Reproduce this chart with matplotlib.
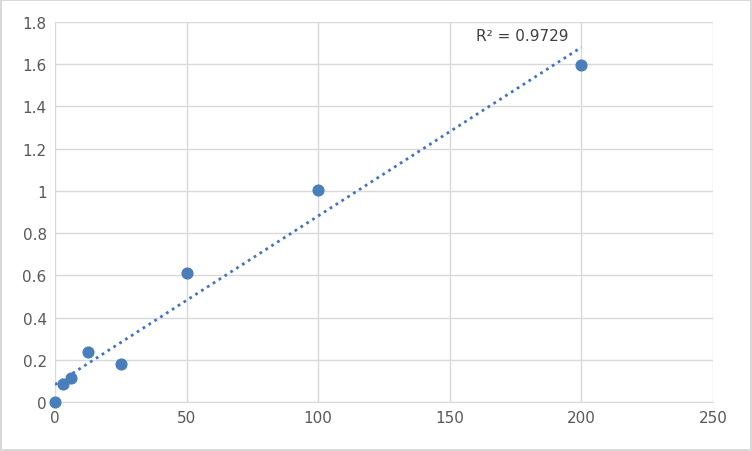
import matplotlib
matplotlib.use("Agg")
import matplotlib.pyplot as plt
import numpy as np

x = [0, 3.125, 6.25, 12.5, 25, 50, 100, 200]
y = [0, 0.085, 0.115, 0.238, 0.178, 0.613, 1.003, 1.597]
xticks = [0, 50, 100, 150, 200, 250]
yticks = [0, 0.2, 0.4, 0.6, 0.8, 1, 1.2, 1.4, 1.6, 1.8]
r2_label = "R² = 0.9729"

fig = plt.figure(figsize=(7.52, 4.52), dpi=100)
fig.patch.set_edgecolor("#d9d9d9")
fig.patch.set_linewidth(1.5)
ax = fig.add_axes([55/752, 49/452, 658/752, 380/452])
ax.set_xlim(0, 250)
ax.set_ylim(0, 1.8)
ax.set_xticks(xticks)
ax.set_yticks(yticks)
ax.set_yticklabels([f"{v:g}" for v in yticks])
ax.grid(True, color="#d9d9d9", linewidth=1)
ax.set_axisbelow(True)
for s in ["top", "right", "left"]:
    ax.spines[s].set_visible(False)
ax.spines["bottom"].set_color("#d9d9d9")
ax.tick_params(length=0, labelsize=11, labelcolor="#595959", pad=6)

m, b = np.polyfit(x, y, 1)
xs = np.array([0, 200])
ax.plot(xs, m*xs + b, linestyle=(0, (1, 1.5)), color="#4472C4", linewidth=2)
ax.scatter(x, y, s=60, color="#4A7EBB", zorder=3, clip_on=False)
ax.text(160, 1.735, r2_label, fontsize=11, color="#404040", va="center")
fig.savefig("out.png", dpi=100)
